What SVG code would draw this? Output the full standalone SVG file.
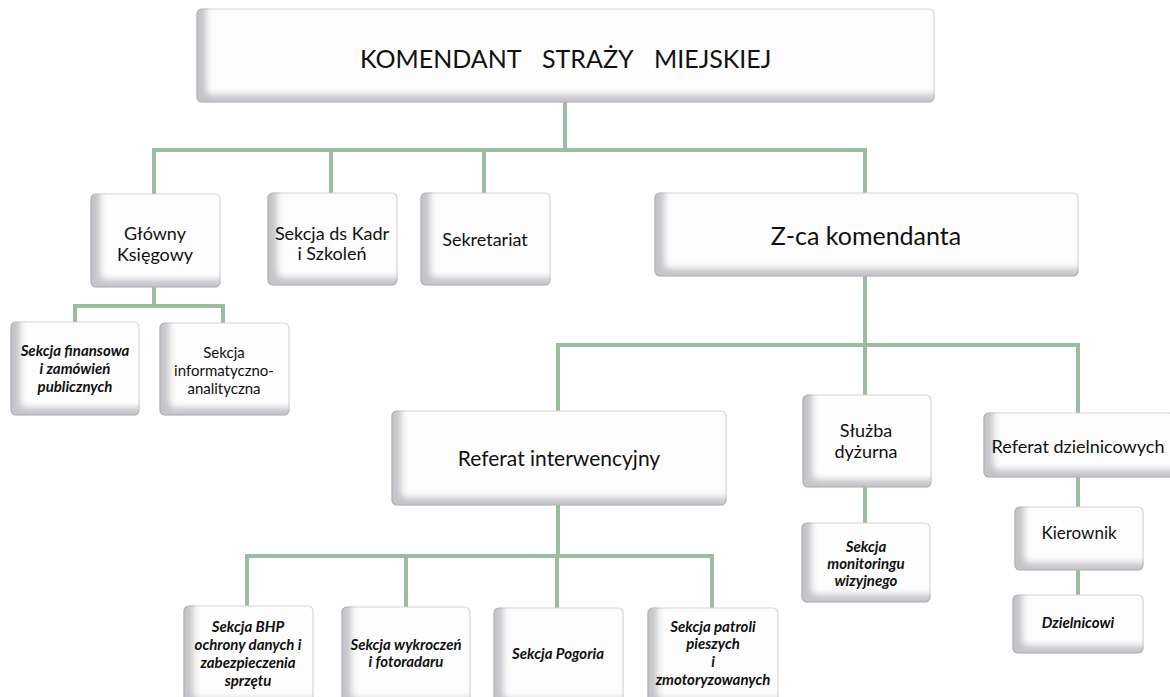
<svg xmlns="http://www.w3.org/2000/svg" width="1170" height="697" viewBox="0 0 1170 697">
<defs>
<filter id="bevel" x="-20%" y="-40%" width="140%" height="180%">
<feComponentTransfer in="SourceAlpha" result="inv"><feFuncA type="table" tableValues="1 0"/></feComponentTransfer>
<feGaussianBlur in="inv" stdDeviation="3" result="b"/>
<feOffset in="b" dx="10" dy="-8" result="o"/>
<feFlood flood-color="#8c8c9a" flood-opacity="0.6"/>
<feComposite operator="in" in2="o" result="sh"/>
<feComposite operator="in" in="sh" in2="SourceAlpha" result="inner"/>
<feMerge><feMergeNode in="SourceGraphic"/><feMergeNode in="inner"/></feMerge>
</filter>
<style>
.box{fill:#fdfdfd;stroke:#d6d6d8;stroke-width:1.2;filter:url(#bevel)}
.ln{fill:none;stroke:#9bbd9f;stroke-width:4}
text{font-family:Lato,"Liberation Sans",sans-serif;fill:#111;text-anchor:middle}
.t1{font-size:25px}
.t2{font-size:25px}
.t3{font-size:21px}
.t4{font-size:18px}
.t5{font-size:17px}
.s{font-size:15px}
.si{font-size:15px;font-style:italic;font-weight:bold}
</style>
</defs>
<rect width="1170" height="697" fill="#ffffff"/>
<g id="connectors">
<path class="ln" d="M565,102 V150"/>
<path class="ln" d="M154,194 V150 H865 V193"/>
<path class="ln" d="M331,150 V193"/>
<path class="ln" d="M484,150 V193"/>
<path class="ln" d="M154,287 V306"/>
<path class="ln" d="M75,322 V306 H223 V323"/>
<path class="ln" d="M865,276 V345"/>
<path class="ln" d="M558,411 V345 H1078 V413"/>
<path class="ln" d="M865,345 V395"/>
<path class="ln" d="M558,505 V556"/>
<path class="ln" d="M247,606 V556 H712 V608"/>
<path class="ln" d="M406,556 V607"/>
<path class="ln" d="M557,556 V608"/>
<path class="ln" d="M865,487 V523"/>
<path class="ln" d="M1078,477 V507"/>
<path class="ln" d="M1078,570 V595"/>
</g>
<g id="komendant">
<rect class="box" x="197" y="9" width="737" height="93" rx="5"/>
<text class="t1" y="68" style="text-anchor:start"><tspan x="360">KOMENDANT</tspan><tspan x="542">STRAŻY</tspan><tspan x="654">MIEJSKIEJ</tspan></text>
</g>
<g id="glowny-ksiegowy">
<rect class="box" x="91" y="194" width="129" height="93" rx="5"/>
<text class="t4" x="155" y="240">Główny</text>
<text class="t4" x="155" y="261">Księgowy</text>
</g>
<g id="sekcja-kadr">
<rect class="box" x="268" y="193" width="129" height="92" rx="5"/>
<text class="t4" x="332" y="240">Sekcja ds Kadr</text>
<text class="t4" x="332" y="260">i Szkoleń</text>
</g>
<g id="sekretariat">
<rect class="box" x="421" y="193" width="129" height="92" rx="5"/>
<text class="t4" x="485" y="246">Sekretariat</text>
</g>
<g id="zca">
<rect class="box" x="655" y="193" width="423" height="83" rx="5"/>
<text class="t2" x="866" y="245">Z-ca komendanta</text>
</g>
<g id="sekcja-finansowa">
<rect class="box" x="11" y="322" width="128" height="93" rx="5"/>
<text class="si" x="75" y="356">Sekcja finansowa</text>
<text class="si" x="75" y="374">i zamówień</text>
<text class="si" x="75" y="392">publicznych</text>
</g>
<g id="sekcja-informatyczna">
<rect class="box" x="160" y="323" width="129" height="92" rx="5"/>
<text class="s" x="224" y="358">Sekcja</text>
<text class="s" x="224" y="376">informatyczno-</text>
<text class="s" x="224" y="394">analityczna</text>
</g>
<g id="referat-interwencyjny">
<rect class="box" x="392" y="411" width="334" height="94" rx="5"/>
<text class="t3" x="559" y="466">Referat interwencyjny</text>
</g>
<g id="sluzba-dyzurna">
<rect class="box" x="803" y="395" width="128" height="92" rx="5"/>
<text class="t4" x="866" y="437">Służba</text>
<text class="t4" x="866" y="458">dyżurna</text>
</g>
<g id="referat-dzielnicowych">
<rect class="box" x="984" y="413" width="190" height="64" rx="5"/>
<text class="t4" x="1078" y="453">Referat dzielnicowych</text>
</g>
<g id="sekcja-monitoringu">
<rect class="box" x="802" y="523" width="128" height="79" rx="5"/>
<text class="si" x="866" y="552">Sekcja</text>
<text class="si" x="866" y="569">monitoringu</text>
<text class="si" x="866" y="586">wizyjnego</text>
</g>
<g id="kierownik">
<rect class="box" x="1015" y="507" width="128" height="63" rx="5"/>
<text class="t5" x="1079" y="539">Kierownik</text>
</g>
<g id="dzielnicowi">
<rect class="box" x="1013" y="595" width="130" height="58" rx="5"/>
<text class="si" x="1078" y="628">Dzielnicowi</text>
</g>
<g id="sekcja-bhp">
<rect class="box" x="184" y="606" width="129" height="100" rx="5"/>
<text class="si" x="248" y="632">Sekcja BHP</text>
<text class="si" x="248" y="650">ochrony danych i</text>
<text class="si" x="248" y="668">zabezpieczenia</text>
<text class="si" x="248" y="686">sprzętu</text>
</g>
<g id="sekcja-wykroczen">
<rect class="box" x="342" y="607" width="128" height="99" rx="5"/>
<text class="si" x="406" y="650">Sekcja wykroczeń</text>
<text class="si" x="406" y="667">i fotoradaru</text>
</g>
<g id="sekcja-pogoria">
<rect class="box" x="494" y="608" width="129" height="98" rx="5"/>
<text class="si" x="558" y="659">Sekcja Pogoria</text>
</g>
<g id="sekcja-patroli">
<rect class="box" x="648" y="608" width="130" height="98" rx="5"/>
<text class="si" x="713" y="632">Sekcja patroli</text>
<text class="si" x="713" y="649">pieszych</text>
<text class="si" x="713" y="667">i</text>
<text class="si" x="713" y="685">zmotoryzowanych</text>
</g>
</svg>
